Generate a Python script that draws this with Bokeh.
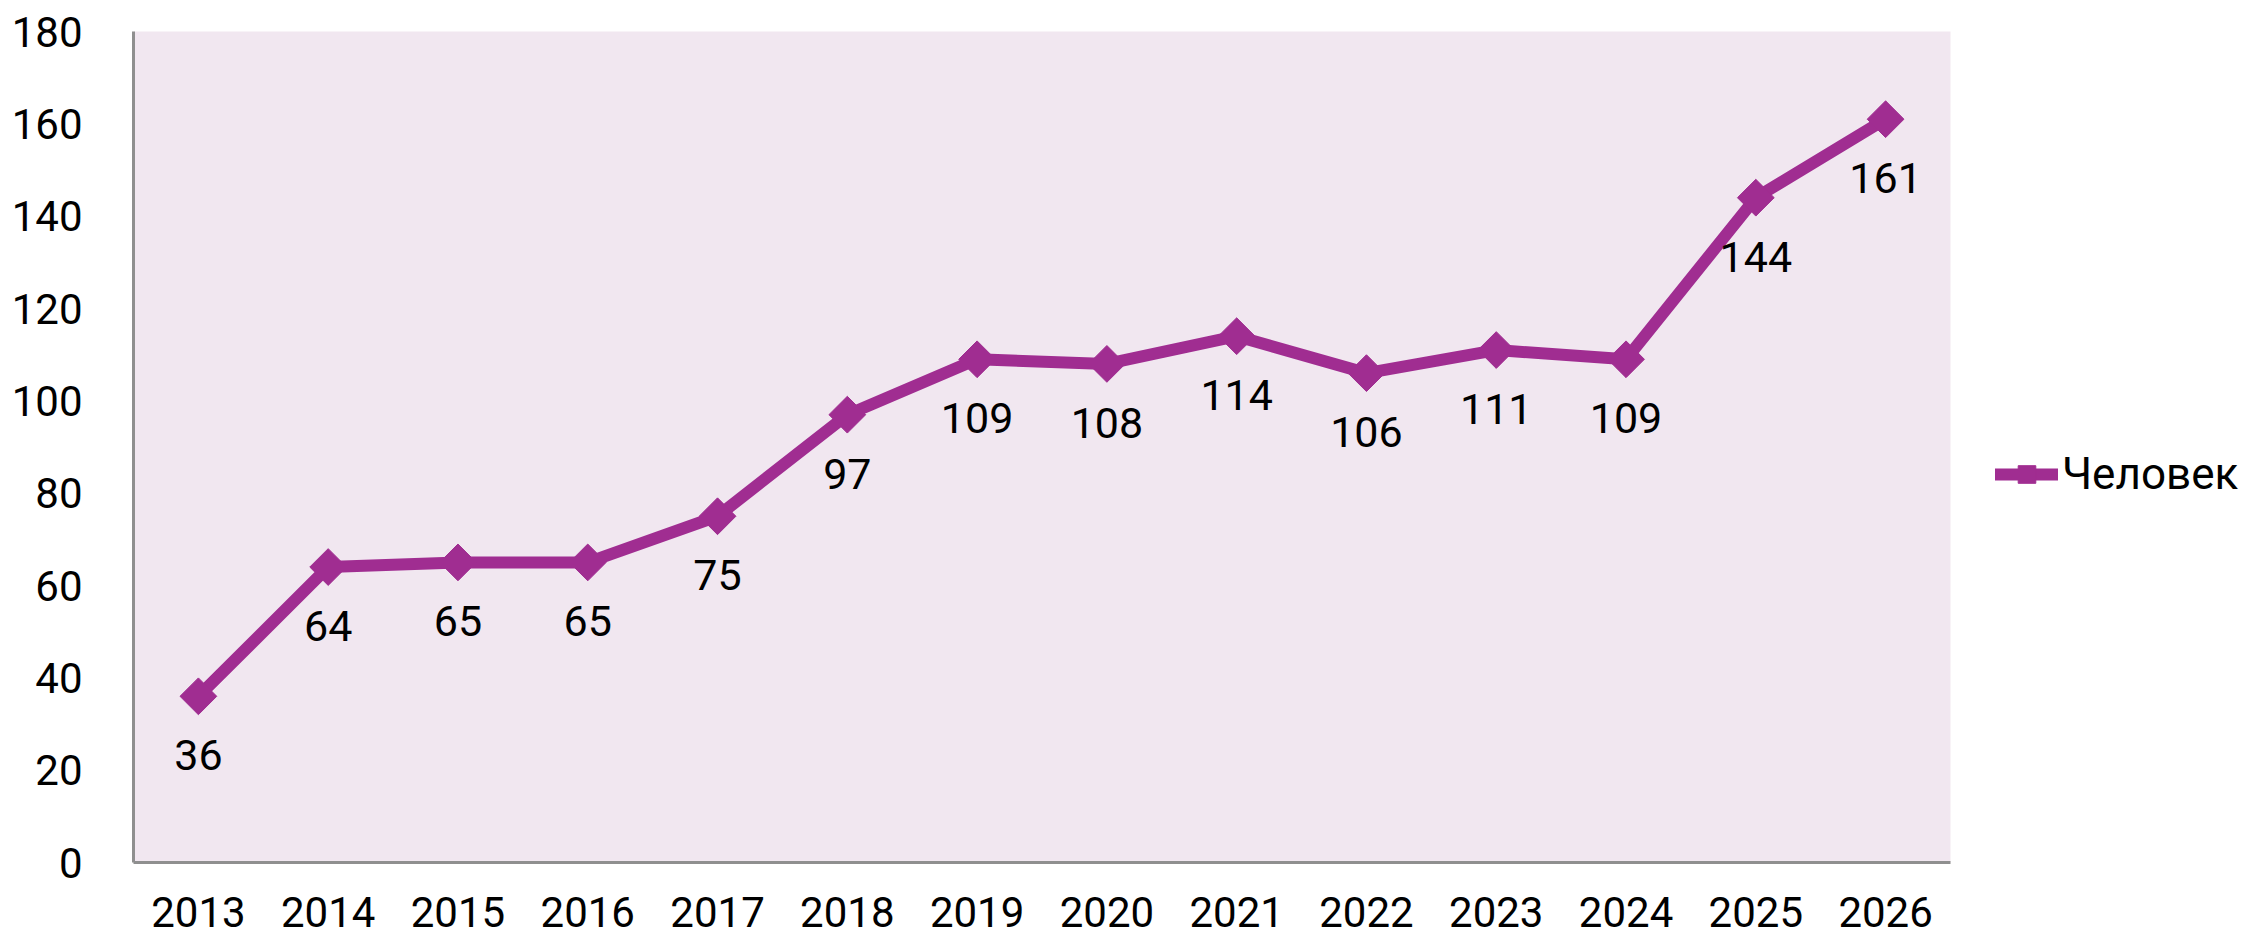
import math
from bokeh.plotting import figure
from bokeh.models import ColumnDataSource, Range1d, FactorRange, Legend, LegendItem, LabelSet, FixedTicker
from bokeh.core.properties import value
from bokeh.embed import file_html
from bokeh.resources import INLINE

years = ["2013", "2014", "2015", "2016", "2017", "2018", "2019", "2020",
         "2021", "2022", "2023", "2024", "2025", "2026"]
people = [36, 64, 65, 65, 75, 97, 109, 108, 114, 106, 111, 109, 144, 161]
series_name = "Человек"
y_ticks = [0, 20, 40, 60, 80, 100, 120, 140, 160, 180]

FONT = "Roboto"
PURPLE = "#A02D91"

src = ColumnDataSource(dict(x=years, y=people, lbl=[str(v) for v in people]))

p = figure(x_range=FactorRange(*years, range_padding=0), y_range=Range1d(0, 180),
           frame_width=1817, frame_height=831,
           min_border_left=133, min_border_top=31, min_border_right=290, min_border_bottom=79,
           output_backend="svg", toolbar_location=None)
p.outline_line_color = None
p.background_fill_color = "#F1E7F0"
p.border_fill_color = "white"
p.xgrid.visible = False
p.ygrid.visible = False

for ax in (p.xaxis[0], p.yaxis[0]):
    ax.axis_line_color = "#8F8F8F"
    ax.axis_line_width = 3
    ax.major_tick_line_color = None
    ax.minor_tick_line_color = None
    ax.major_label_text_font = FONT
    ax.major_label_text_font_size = "42px"
    ax.major_label_text_color = "black"
p.yaxis.ticker = FixedTicker(ticks=y_ticks)
p.yaxis.major_label_standoff = 45
p.xaxis.major_label_standoff = 28

ln = p.line("x", "y", source=src, line_color=PURPLE, line_width=12, line_join="round", line_cap="round")
mk = p.scatter("x", "y", source=src, marker="square", size=26, angle=math.pi / 4,
               fill_color=PURPLE, line_color=PURPLE)

labels = LabelSet(x="x", y="y", text="lbl", source=src, text_align="center",
                  text_baseline="middle", y_offset=-59, text_font=value(FONT),
                  text_font_size="43px", text_color="black")
p.add_layout(labels)

legend = Legend(items=[LegendItem(label=series_name, renderers=[ln, mk])],
                location=(45, 362), glyph_width=63, glyph_height=44,
                label_standoff=4, padding=0, margin=0, border_line_color=None,
                background_fill_alpha=0, label_text_font=FONT,
                label_text_font_size="44px", label_text_color="black")
p.add_layout(legend, "right")

open("out.html", "w").write(file_html(p, INLINE))
